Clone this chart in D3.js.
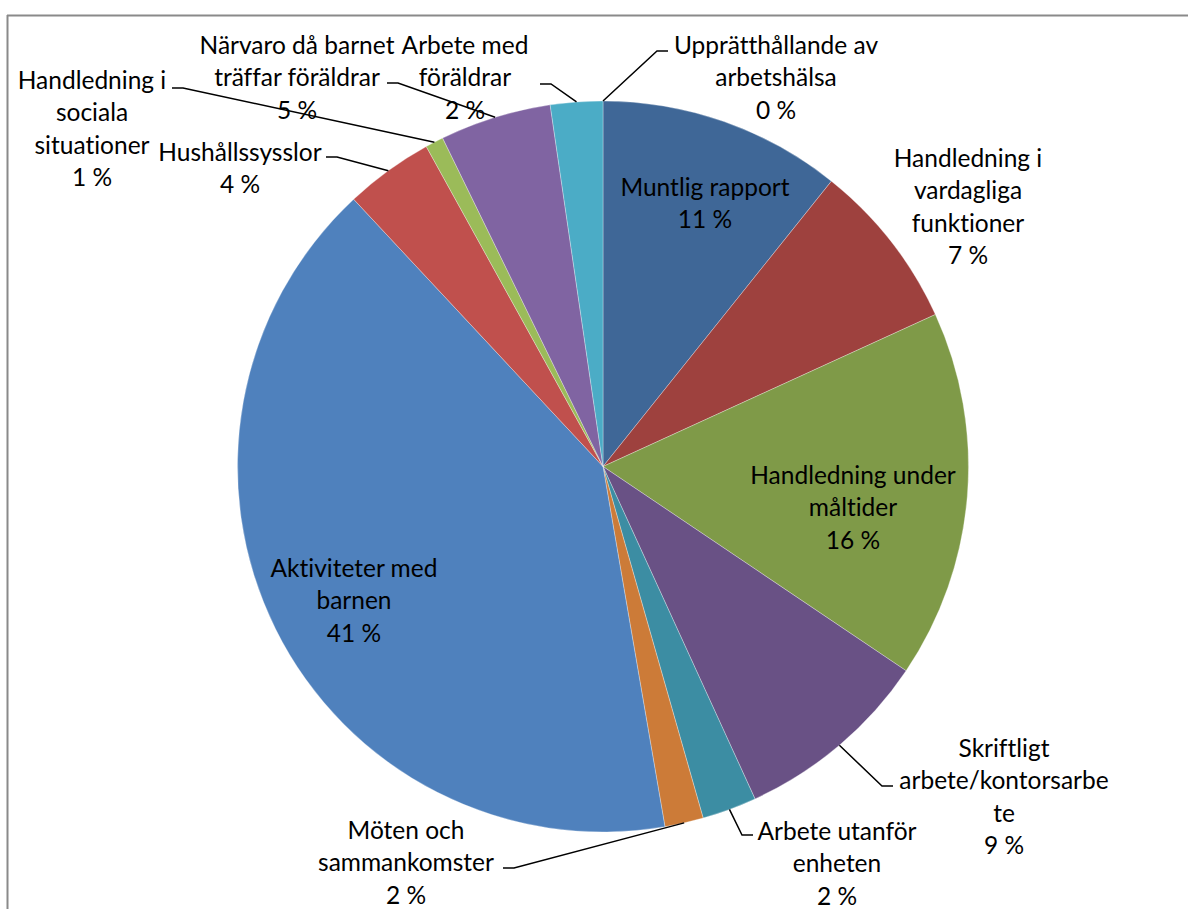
<!DOCTYPE html>
<html>
<head>
<meta charset="utf-8">
<script src="https://cdn.jsdelivr.net/npm/d3@7"></script>
<style>
  body { margin: 0; background: #fff; }
  .Label { font-family: Lato, "Noto Sans", sans-serif; font-size: 24.5px; fill: #000; font-variant-ligatures: none; }
  .Leader { fill: none; stroke: #000; stroke-width: 1.5px; }
  .Frame { stroke: #8a8a8a; stroke-width: 2px; }
</style>
</head>
<body>
<div id="ChartContainer"></div>
<script>
// Slices, clockwise from 12 o'clock
var categories = [
  "Upprätthållande av arbetshälsa",
  "Muntlig rapport",
  "Handledning i vardagliga funktioner",
  "Handledning under måltider",
  "Skriftligt arbete/kontorsarbete",
  "Arbete utanför enheten",
  "Möten och sammankomster",
  "Aktiviteter med barnen",
  "Hushållssysslor",
  "Handledning i sociala situationer",
  "Närvaro då barnet träffar föräldrar",
  "Arbete med föräldrar"
]
var values = [0, 10.7, 7.4, 16.2, 8.7, 2.4, 1.7, 40.6, 3.9, 0.8, 4.9, 2.3]

// how the labels wrap in the original
var labelLines = [
  ["Upprätthållande av", "arbetshälsa"],
  ["Muntlig rapport"],
  ["Handledning i", "vardagliga", "funktioner"],
  ["Handledning under", "måltider"],
  ["Skriftligt", "arbete/kontorsarbe", "te"],
  ["Arbete utanför", "enheten"],
  ["Möten och", "sammankomster"],
  ["Aktiviteter med", "barnen"],
  ["Hushållssysslor"],
  ["Handledning i", "sociala", "situationer"],
  ["Närvaro då barnet", "träffar föräldrar"],
  ["Arbete med", "föräldrar"]
]

var colors = [
  "#F79646", "#3F6797", "#9E413E", "#7F9A48", "#695185", "#3C8DA3",
  "#CC7B38", "#4F81BD", "#C0504D", "#9BBB59", "#8064A2", "#4BACC6"
]

// label centre (first line) and leader end [x, y, stub direction]
var labelLayout = [
  { x: 776, y: 45, leader: [668, 51, -1] },
  { x: 705, y: 187 },
  { x: 968, y: 158 },
  { x: 853, y: 475 },
  { x: 1004, y: 748, leader: [893, 786, -1] },
  { x: 837, y: 831, leader: [753, 835, -1] },
  { x: 406, y: 830, leader: [503, 868, 1] },
  { x: 354, y: 568 },
  { x: 240, y: 152, leader: [326, 157, 1] },
  { x: 92, y: 80, leader: [172, 88, 1] },
  { x: 297, y: 45, leader: [387, 83, 1] },
  { x: 465, y: 45, leader: [540, 84, 1] }
]

var fullWidth = 1188
var fullHeight = 909
var cx = 603
var cy = 466.5
var radius = 365.5
var lineHeight = 32.5

var svg = d3.select("#ChartContainer").append("svg")
  .attr("width", fullWidth)
  .attr("height", fullHeight)

// chart frame (top and left edges visible)
svg.append("line").attr("class", "Frame")
  .attr("x1", 7).attr("y1", 15.5).attr("x2", fullWidth).attr("y2", 15.5)
svg.append("line").attr("class", "Frame")
  .attr("x1", 7.5).attr("y1", 15).attr("x2", 7.5).attr("y2", fullHeight)

var total = d3.sum(values)
var pie = d3.pie().sort(null).value(d => d)
var arcs = pie(values)
var arc = d3.arc().innerRadius(0).outerRadius(radius)

var g = svg.append("g")
  .attr("transform", `translate(${cx},${cy})`)

g.selectAll(".Slice")
  .data(arcs)
  .enter().append("path")
  .attr("class", "Slice")
  .attr("d", arc)
  .attr("fill", (d, i) => colors[i])
  .attr("stroke", "#fff")
  .attr("stroke-width", 0.5)
  .attr("stroke-opacity", 0.6)

// leader lines: slice edge at mid angle -> elbow -> label
arcs.forEach((d, i) => {
  var lay = labelLayout[i]
  if (!lay.leader) return
  var mid = (d.startAngle + d.endAngle) / 2
  var px = cx + radius * Math.sin(mid)
  var py = cy - radius * Math.cos(mid)
  var ex = lay.leader[0], ey = lay.leader[1]
  var elbowX = ex + lay.leader[2] * 11
  svg.append("polyline")
    .attr("class", "Leader")
    .attr("points", `${px},${py} ${elbowX},${ey} ${ex},${ey}`)
})

// data labels
categories.forEach((name, i) => {
  var lay = labelLayout[i]
  var lines = labelLines[i].concat([Math.round(values[i] / total * 100) + " %"])
  var t = svg.append("text")
    .attr("class", "Label")
    .attr("text-anchor", "middle")
    .attr("x", lay.x)
    .attr("y", lay.y)
  lines.forEach((line, k) => {
    t.append("tspan")
      .attr("x", lay.x)
      .attr("y", lay.y + k * lineHeight)
      .attr("dy", "0.35em")
      .text(line)
  })
})
</script>
</body>
</html>
